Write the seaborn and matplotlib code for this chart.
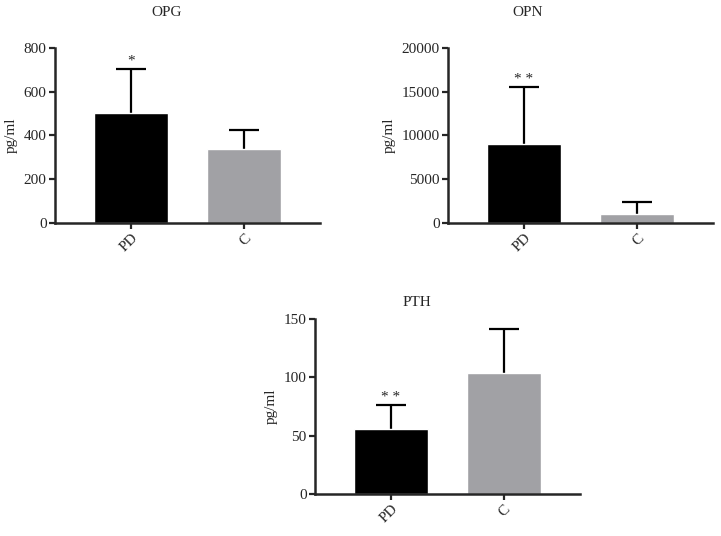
import matplotlib
matplotlib.use("Agg")
import matplotlib.pyplot as plt
import seaborn as sns
import pandas as pd

groups = ["PD", "C"]
bar_colors = ["#000000", "#A1A1A5"]

opg_mean = [505, 340]
opg_err = [200, 85]
opn_mean = [9000, 1050]
opn_err = [6500, 1350]
pth_mean = [56, 104]
pth_err = [20, 37]

stars_opg = ["*", ""]
stars_opn = ["* *", ""]
stars_pth = ["* *", ""]

sns.set_style("ticks")
plt.rcParams['font.family'] = ['Liberation Serif', 'DejaVu Serif']

fig = plt.figure(figsize=(7.21, 5.36), dpi=100)


def panel(rect, title, title_xy, means, errs, stars, ymax, step):
    ax = fig.add_axes(rect)
    df = pd.DataFrame({"group": groups, "value": means})
    sns.barplot(data=df, x="group", y="value", hue="group", palette=bar_colors,
                width=0.65, errorbar=None, legend=False, ax=ax, saturation=1)
    # upper error bars only
    _, caps, _ = ax.errorbar(range(len(groups)), means, yerr=[[0] * len(errs), errs],
                             fmt="none", ecolor="black", elinewidth=1.6, capsize=10.5,
                             capthick=1.6, zorder=0)
    caps[0].set_visible(False)
    for i, s in enumerate(stars):
        if s:
            ax.annotate(s, (i, means[i] + errs[i]), xytext=(0, 1),
                        textcoords="offset points", ha="center", va="bottom",
                        fontsize=11)
    ax.set_xlim(-0.673, 1.673)
    ax.set_ylim(0, ymax)
    ax.set_yticks(range(0, ymax + 1, step))
    ax.set_xlabel("")
    ax.set_ylabel("pg/ml", fontsize=11, labelpad=4)
    sns.despine(ax=ax)
    for sp in ["left", "bottom"]:
        ax.spines[sp].set_linewidth(1.8)
    ax.tick_params(axis="both", width=1.6, length=4, labelsize=11, direction="out", pad=2)
    plt.setp(ax.get_xticklabels(), rotation=45, ha="right", rotation_mode="anchor")
    fig.text(title_xy[0], title_xy[1], title, ha="center", va="center", fontsize=11)
    return ax


panel([0.0763, 0.584, 0.3675, 0.3265], "OPG", (167 / 721, 1 - 13 / 536),
      opg_mean, opg_err, stars_opg, 800, 200)
panel([0.6214, 0.584, 0.3675, 0.3265], "OPN", (528 / 721, 1 - 13 / 536),
      opn_mean, opn_err, stars_opn, 20000, 5000)
panel([0.4369, 0.0784, 0.3675, 0.3265], "PTH", (417 / 721, 1 - 302 / 536),
      pth_mean, pth_err, stars_pth, 150, 50)

fig.savefig("out.png", dpi=100)
